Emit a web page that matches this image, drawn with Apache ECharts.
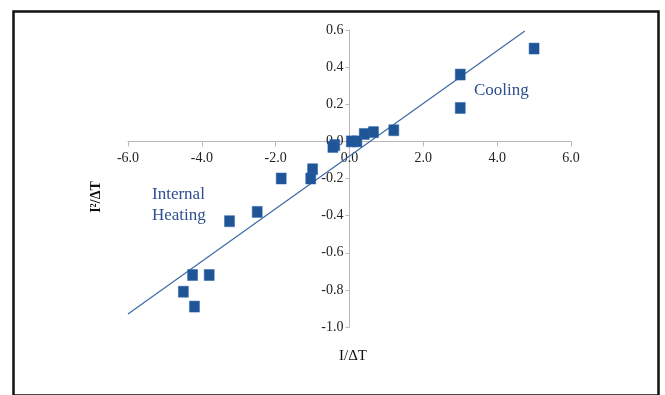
<!DOCTYPE html>
<html>
<head>
<meta charset="utf-8">
<script src="https://cdn.jsdelivr.net/npm/echarts@6/dist/echarts.min.js"></script>
<style>
html,body{margin:0;padding:0;background:#fff;}
#chart{width:665px;height:395px;}
</style>
</head>
<body>
<div id="chart"></div>
<script>
// Data
const xValues = [5.0, 3.0, 3.0, 1.2, 0.65, 0.4, 0.2, 0.05, -0.4, -0.45, -1.0, -1.05, -1.85, -2.5, -3.25, -4.25, -3.8, -4.5, -4.2];
const yValues = [0.50, 0.36, 0.18, 0.06, 0.05, 0.04, 0.0, 0.0, -0.02, -0.03, -0.15, -0.20, -0.20, -0.38, -0.43, -0.72, -0.72, -0.81, -0.89];
const trendX = [-6.0, 4.75];
const trendY = [-0.93, 0.595];
const xTicks = [-6, -4, -2, 0, 2, 4, 6];
const yTicks = [-1.0, -0.8, -0.6, -0.4, -0.2, 0.0, 0.2, 0.4, 0.6];

const points = xValues.map((x, i) => [x, yValues[i]]);
const trend = trendX.map((x, i) => [x, trendY[i]]);

const W = 665, H = 395;
const gridL = 128, gridR = 94, gridT = 30, gridB = 68;
const xMin = xTicks[0], xMax = xTicks[xTicks.length - 1];
const yMin = yTicks[0], yMax = yTicks[yTicks.length - 1];
const plotW = W - gridL - gridR, plotH = H - gridT - gridB;
// shift axes so that they cross at the origin (labels follow)
const xAxisOffset = -((0 - yMin) / (yMax - yMin)) * plotH;
const yAxisOffset = -((0 - xMin) / (xMax - xMin)) * plotW;

const serif = 'Liberation Serif, Times New Roman, serif';
const chart = echarts.init(document.getElementById('chart'));
chart.setOption({
  animation: false,
  backgroundColor: '#fff',
  grid: { left: gridL, right: gridR, top: gridT, bottom: gridB },
  xAxis: {
    type: 'value', min: xMin, max: xMax, interval: 2,
    position: 'bottom', offset: xAxisOffset,
    axisLine: { onZero: false, lineStyle: { color: '#b8b8b8', width: 1 } },
    axisTick: { show: true, length: 5, lineStyle: { color: '#b8b8b8' } },
    axisLabel: { color: '#222', fontFamily: serif, fontSize: 14, margin: 10,
      formatter: v => v.toFixed(1) },
    splitLine: { show: false }
  },
  yAxis: {
    type: 'value', min: yMin, max: yMax, interval: 0.2,
    position: 'left', offset: yAxisOffset,
    axisLine: { onZero: false, lineStyle: { color: '#b8b8b8', width: 1 } },
    axisTick: { show: true, length: 4, lineStyle: { color: '#b8b8b8' } },
    axisLabel: { color: '#222', fontFamily: serif, fontSize: 14, margin: 6,
      formatter: v => v.toFixed(1) },
    splitLine: { show: false }
  },
  series: [
    {
      type: 'line', data: trend, symbol: 'none', z: 2,
      lineStyle: { color: '#3b6aa6', width: 1.2 }
    },
    {
      type: 'scatter', data: points, symbol: 'rect', symbolSize: [10, 11], z: 3,
      itemStyle: { color: '#1f5597', opacity: 1, borderColor: '#2a64aa', borderWidth: 0.5 }
    }
  ],
  graphic: [
    { type: 'rect', left: 11, top: 9, shape: { width: 645, height: 384 },
      style: { fill: 'none', stroke: '#111', lineWidth: 2.5 }, z: 10 },
    { type: 'text', x: 474, y: 82, style: { text: 'Cooling', fill: '#2e4f8f',
      font: '17px ' + serif } },
    { type: 'text', x: 152, y: 184, style: { text: 'Internal\nHeating', fill: '#2e4f8f',
      font: '17px ' + serif, lineHeight: 21 } },
    { type: 'text', x: 353, y: 356, style: { text: 'I/ΔT', fill: '#111',
      font: '15px ' + serif, align: 'center', verticalAlign: 'middle' } },
    { type: 'text', x: 96, y: 197, rotation: Math.PI / 2, style: { text: 'I²/ΔT', fill: '#111',
      font: 'bold 14px ' + serif, align: 'center', verticalAlign: 'middle' } }
  ]
});
</script>
</body>
</html>
